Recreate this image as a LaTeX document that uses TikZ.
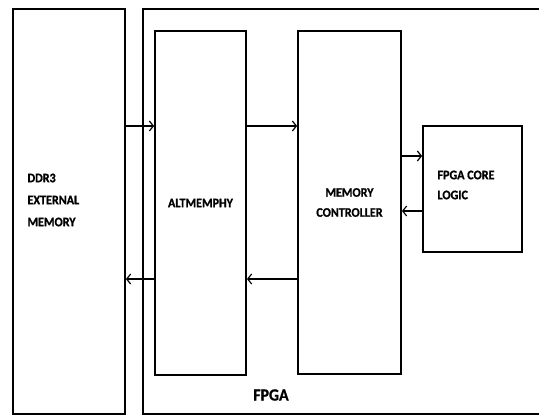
\documentclass[tikz,border=0pt]{standalone}
\usepackage{fontspec}
\setmainfont{Carlito}[FakeStretch=0.93,BoldFeatures={FakeBold=1}]
\usepackage{tikz}
\usetikzlibrary{arrows.meta}

\begin{document}
\begin{tikzpicture}[x=1pt,y=-1pt,font=\bfseries\fontsize{13}{20}\selectfont,
    blk/.style={draw,line width=1.8pt,inner sep=0pt},
    arr/.style={-{Straight Barb[length=4pt,width=10pt]},line width=1.2pt}]
\useasboundingbox (0,0) rectangle (539,415);
% outer FPGA frame, open on the right
\draw[line width=1.8pt] (545,9) -- (143,9) -- (143,414) -- (545,414);
\node[blk,minimum width=112pt,minimum height=405pt] (ddr) at (69,211.5) {};
\node[blk,minimum width=91pt,minimum height=344pt] (alt) at (200.5,203) {ALTMEMPHY};
\node[blk,minimum width=103pt,minimum height=343pt,align=center] (mc) at (349.5,202.5) {MEMORY\\CONTROLLER};
\node[blk,minimum width=99pt,minimum height=126pt] (core) at (472.5,189) {};
\node[anchor=west,align=left,font=\bfseries\fontsize{13}{22}\selectfont] (ddrtxt) at (24,200) {DDR3\\EXTERNAL\\MEMORY};
\node[anchor=west,align=left] (coretxt) at (434,185) {FPGA CORE\\LOGIC};
\node[font=\bfseries\fontsize{17}{20}\selectfont] (fpga) at (271,395) {FPGA};
\draw[arr] (ddr.east |- 0,126) -- (alt.west |- 0,126);
\draw[arr] (alt.east |- 0,126) -- (mc.west |- 0,126);
\draw[arr] (mc.east |- 0,156) -- (core.west |- 0,156);
\draw[arr] (core.west |- 0,211) -- (mc.east |- 0,211);
\draw[arr] (mc.west |- 0,279) -- (alt.east |- 0,279);
\draw[arr] (alt.west |- 0,279) -- (ddr.east |- 0,279);
\end{tikzpicture}
\end{document}
